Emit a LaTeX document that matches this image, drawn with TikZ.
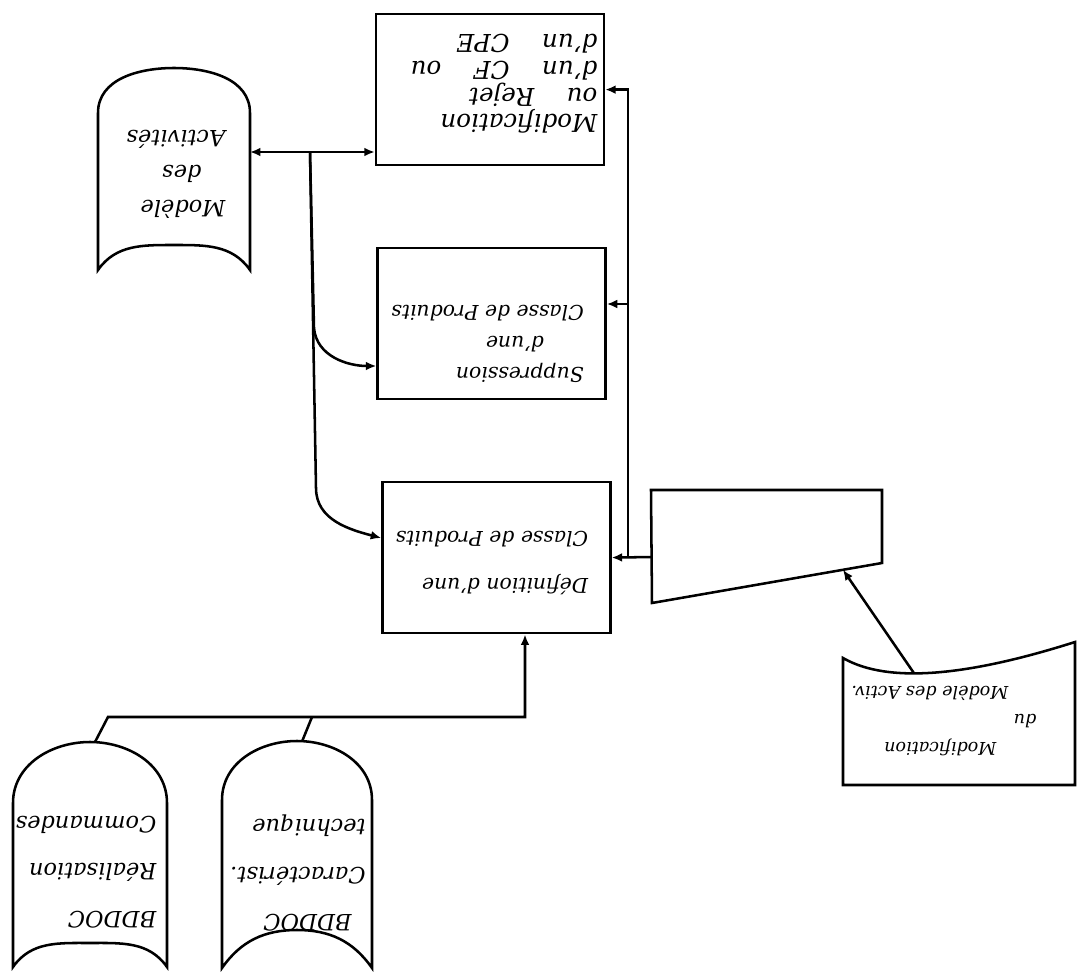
\documentclass[tikz,border=0pt]{standalone}
\usepackage{fontspec}
\setmainfont{DejaVu Serif}
\usepackage{tikz}
\usetikzlibrary{arrows.meta}

\begin{document}
\begin{tikzpicture}[
    line width = 1.8pt,
    >={Latex[length=2.6mm,width=2.2mm]},
    box/.style = {draw, minimum width = 5.7cm, minimum height = 3.78cm, inner sep = 0pt},
    hand/.style = {rotate = 180, align = left, inner sep = 0pt}
]

    % \draw [help lines, step = 1] (0,0) grid (27,-25);
    \useasboundingbox (0,0) rectangle (26.975,-24.45);

    % boxes
    \node [box] (modif) at (12.25,-2.24) {};
    \node [box] (supp) at (12.29,-8.09) {};
    \node [box] (defin) at (12.41,-13.94) {};

    % trapezoid
    \draw (16.275,-12.25) -- (22.05,-12.25) -- (22.05,-14.075) -- (16.3,-15.075) -- cycle;

    % documents
    \draw (2.45,-2.825) to[out=90,in=180] (4.35,-1.7) to[out=0,in=90] (6.25,-2.825) -- (6.25,-6.75) to[out=125,in=0] (4.35,-6.125) to[out=180,in=55] (2.45,-6.75) -- cycle;
    \draw (0.325,-20.075) to[out=90,in=180] (2.25,-18.55) to[out=0,in=90] (4.175,-20.075) -- (4.175,-24.175) to[out=125,in=0] (2.25,-23.575) to[out=180,in=55] (0.325,-24.175) -- cycle;
    \draw (5.55,-20) to[out=90,in=180] (7.425,-18.525) to[out=0,in=90] (9.3,-20) -- (9.3,-24.2) to[out=125,in=0] (7.425,-23.25) to[out=180,in=55] (5.55,-24.2) -- cycle;
    \draw (21.075,-16.45) .. controls (22.2,-17.1) and (24.2,-16.9) .. (26.875,-16.05) -- (26.875,-19.625) -- (21.075,-19.625) -- cycle;

    % texts
    \node [hand, font = \fontsize{17.5}{19}\selectfont\itshape] (tModif) at (12.6,-2.1) {Modification\\ou \quad Rejet\\d'un \quad CF \quad ou\\d'un \quad CPE};
    \node [hand, font = \fontsize{14.5}{22}\selectfont\itshape] (tSupp) at (12.19,-8.6) {Suppression\\\hspace*{1cm}d'une\\Classe de Produits};
    \node [hand, font = \fontsize{14.5}{33}\selectfont\itshape] (tDefin) at (12.3,-14.08) {Définition d'une\\Classe de Produits};
    \node [hand, font = \fontsize{16}{25}\selectfont\itshape] (tModele) at (4.4,-4.35) {Modèle\\\hspace*{0.6cm}des\\Activités};
    \node [hand, font = \fontsize{12.5}{20}\selectfont\itshape] (tDoc) at (23.6,-18.03) {\hspace*{1cm}Modification\\du\\\hspace*{0.7cm}Modèle des Activ.};
    \node [hand, font = \fontsize{16}{34}\selectfont\itshape] (tBddA) at (2.15,-21.8) {BDDOC\\Réalisation\\Commandes};
    \node [hand, font = \fontsize{16}{34}\selectfont\itshape] (tBddB) at (7.45,-21.83) {\hspace*{0.35cm}BDDOC\\Caractérist.\\technique};

    % left side
    \coordinate (modeleR) at (6.25,-3.8);
    \coordinate (jTop) at (7.75,-3.8);
    \draw [<->] (modeleR) -- (modeleR -| modif.west);
    \draw [->] (jTop) -- (7.85,-8.2) to[out=-85,in=180] (supp.west |- 0,-9.15);
    \draw [->] (jTop) -- (7.9,-12.2) to[out=-90,in=165] (defin.west |- 0,-13.45);

    % right side
    \coordinate (trapL) at (16.29,-13.925);
    \coordinate (jRight) at (15.7,-13.925);
    \coordinate (jMid) at (15.7,-7.6);
    \draw [->] (trapL) -- (defin.east);
    \draw [->] (jRight) |- (modif.east);
    \draw [->] (jMid) -- (supp.east |- jMid);

    % bottom
    \coordinate (bdA) at (2.37,-18.56);
    \coordinate (bdB) at (7.55,-18.54);
    \coordinate (hA) at (2.7,-17.925);
    \coordinate (hB) at (7.8,-17.925);
    \coordinate (jBot) at (13.125,-17.925);
    \draw [->] (bdA) -- (hA) -- (jBot) -- (jBot |- defin.south);
    \draw (bdB) -- (hB);

    % modification doc
    \coordinate (docTop) at (22.85,-16.83);
    \coordinate (trapIn) at (21.075,-14.245);
    \draw [->] (docTop) -- (trapIn);

\end{tikzpicture}
\end{document}
